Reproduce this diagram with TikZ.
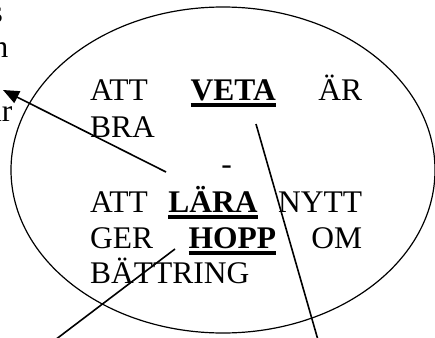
\documentclass[tikz,border=0pt]{standalone}
\usepackage{fontspec}
\setmainfont{Liberation Serif}
\usepackage{tikz}
\usetikzlibrary{arrows.meta,shapes.geometric}
\newcommand{\ulword}[1]{\setbox0\hbox{\bfseries #1}\rlap{\rule[-6.7pt]{\wd0}{3.3pt}}\box0}
\newcommand{\jline}[1]{\hbox to 272pt{#1}}
\tikzset{
  txt/.style={anchor=base west, inner sep=0pt, font=\fontsize{31.5}{36.6}\selectfont},
  oval/.style={ellipse, draw, line width=1.2pt, minimum width=424pt, minimum height=326pt, inner sep=0pt},
  flow/.style={-{Triangle[length=16pt,width=13pt]}, line width=1.6pt},
  stick/.style={line width=1.6pt},
}
\begin{document}
\begin{tikzpicture}[x=1pt, y=-1pt]
\useasboundingbox (0,0) rectangle (435,337);
\clip (0,0) rectangle (435,337);
\node[oval] (ring) at (223,170) {};
\node[txt, anchor=base east] (cuts) at (3,23) {s};
\node[txt, anchor=base east] (cutn) at (8.5,57) {n};
\node[txt, anchor=base east] (cutar) at (12.5,121) {ar};
\node[txt] (veta) at (90,100) {\jline{ATT\hfill\ulword{VETA}\hfill ÄR}};
\node[txt] (bra) at (90,137) {BRA};
\node[txt, anchor=base] (dash) at (226.5,174) {-};
\node[txt] (lara) at (90,212) {\jline{ATT\hfill\ulword{LÄRA}\hfill NYTT}};
\node[txt] (hopp) at (90,248) {\jline{GER\hfill\ulword{HOPP}\hfill OM}};
\node[txt] (battring) at (90,283) {BÄTTRING};
\coordinate (dashtail) at (166,172);
\coordinate (hint) at (3,90);
\coordinate (vetafoot) at (256,124);
\coordinate (vetaend) at (318,340);
\coordinate (hoppfoot) at (175,249);
\coordinate (hoppend) at (55,340);
\draw[flow] (dashtail) -- (hint);
\draw[stick] (vetafoot) -- (vetaend);
\draw[stick] (hoppfoot) -- (hoppend);
\end{tikzpicture}
\end{document}
